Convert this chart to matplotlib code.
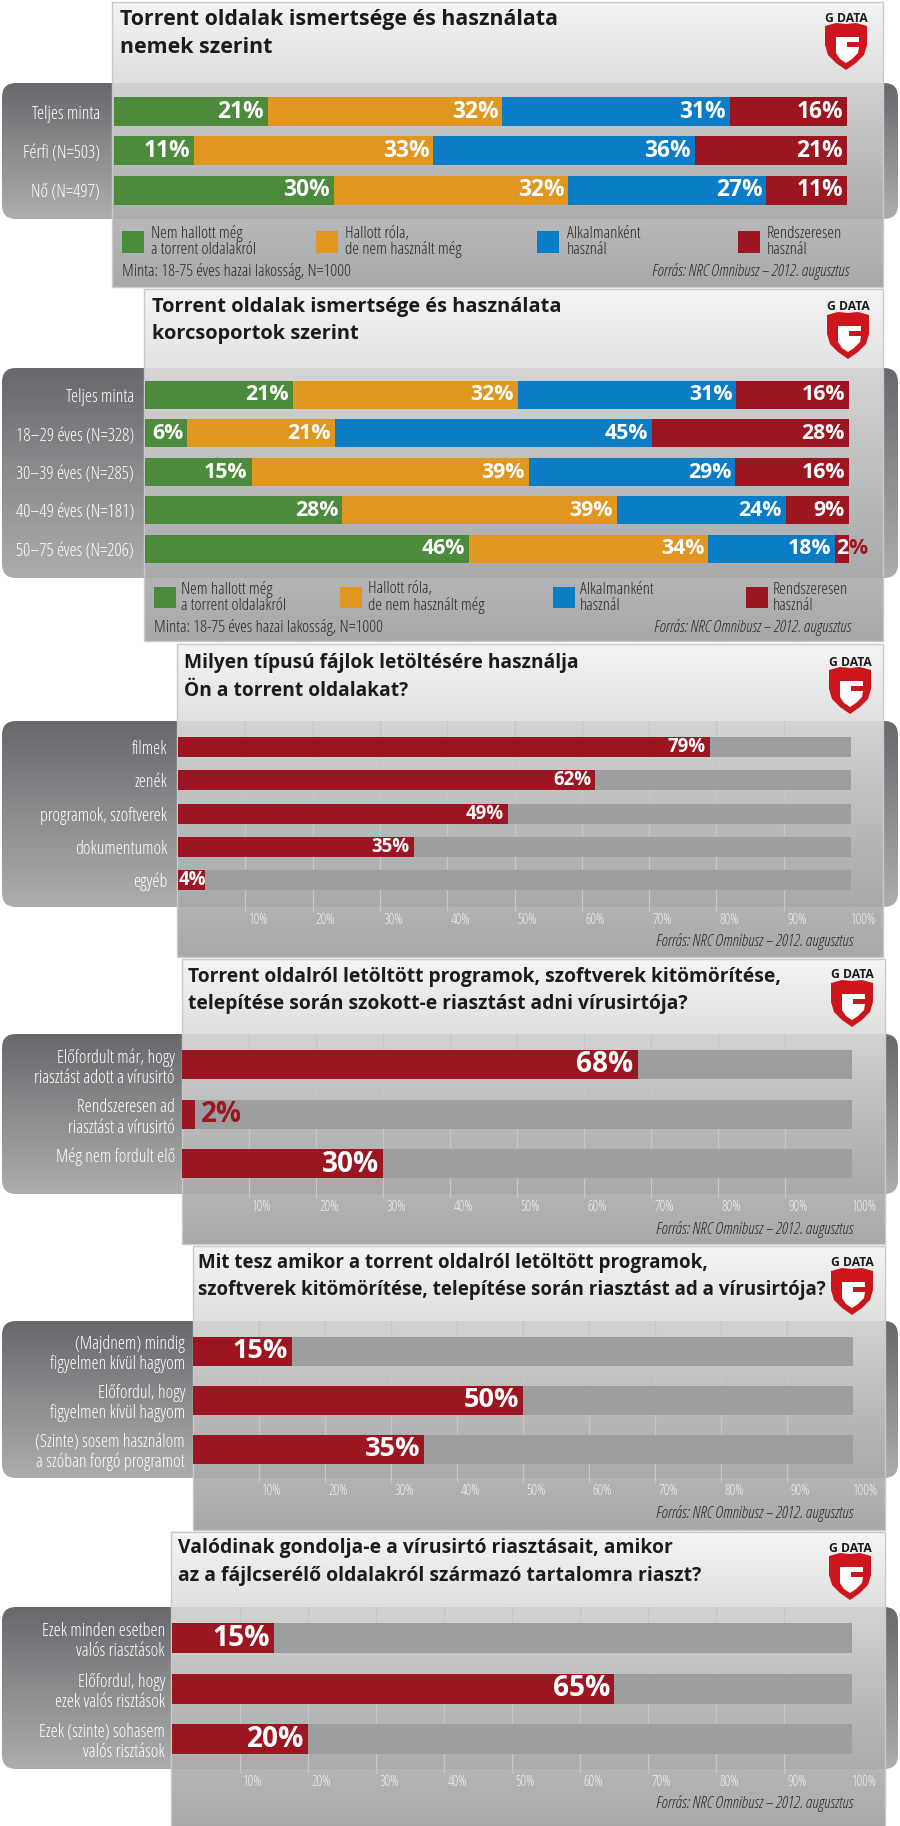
import numpy as np
import matplotlib
matplotlib.use('Agg')
import matplotlib.pyplot as plt
import matplotlib.transforms as mtransforms
from matplotlib import font_manager as fm
from matplotlib.patches import FancyBboxPatch, Rectangle, Polygon
from matplotlib.colors import LinearSegmentedColormap

# ------------------------------------------------------------------ data
series_names = ['Nem hallott még\na torrent oldalakról', 'Hallott róla,\nde nem használt még',
                'Alkalmanként\nhasznál', 'Rendszeresen\nhasznál']
series_colors = ['#4b8b3b', '#e0961f', '#0b7dc6', '#9b1620']

gender_categories = ['Teljes minta', 'Férfi (N=503)', 'Nő (N=497)']
gender_never = [21, 11, 30]
gender_heard = [32, 33, 32]
gender_occasional = [31, 36, 27]
gender_regular = [16, 21, 11]

age_categories = ['Teljes minta', '18–29 éves (N=328)', '30–39 éves (N=285)',
                  '40–49 éves (N=181)', '50–75 éves (N=206)']
age_never = [21, 6, 15, 28, 46]
age_heard = [32, 21, 39, 39, 34]
age_occasional = [31, 45, 29, 24, 18]
age_regular = [16, 28, 16, 9, 2]

filetype_categories = ['filmek', 'zenék', 'programok, szoftverek', 'dokumentumok', 'egyéb']
filetype_values = [79, 62, 49, 35, 4]

alert_categories = ['Előfordult már, hogy\nriasztást adott a vírusirtó',
                    'Rendszeresen ad\nriasztást a vírusirtó',
                    'Még nem fordult elő\n ']
alert_values = [68, 2, 30]

action_categories = ['(Majdnem) mindig\nfigyelmen kívül hagyom',
                     'Előfordul, hogy\nfigyelmen kívül hagyom',
                     '(Szinte) sosem használom\na szóban forgó programot']
action_values = [15, 50, 35]

real_categories = ['Ezek minden esetben\nvalós riasztások',
                   'Előfordul, hogy\nezek valós risztások',
                   'Ezek (szinte) sohasem\nvalós risztások']
real_values = [15, 65, 20]

pct_ticks = [10, 20, 30, 40, 50, 60, 70, 80, 90, 100]
pct_tick_labels = ['10%', '20%', '30%', '40%', '50%', '60%', '70%', '80%', '90%', '100%']

titles = [
    ['Torrent oldalak ismertsége és használata', 'nemek szerint'],
    ['Torrent oldalak ismertsége és használata', 'korcsoportok szerint'],
    ['Milyen típusú fájlok letöltésére használja', 'Ön a torrent oldalakat?'],
    ['Torrent oldalról letöltött programok, szoftverek kitömörítése,',
     'telepítése során szokott-e riasztást adni vírusirtója?'],
    ['Mit tesz amikor a torrent oldalról letöltött programok,',
     'szoftverek kitömörítése, telepítése során riasztást ad a vírusirtója?'],
    ['Valódinak gondolja-e a vírusirtó riasztásait, amikor',
     'az a fájlcserélő oldalakról származó tartalomra riaszt?'],
]
sample_note = 'Minta: 18-75 éves hazai lakosság, N=1000'
source_note = 'Forrás: NRC Omnibusz – 2012. augusztus'

# ------------------------------------------------------------------ fonts
def pick_font():
    prefs = ['Liberation Sans Narrow', 'Noto Sans', 'Open Sans', 'Roboto', 'DejaVu Sans', 'Lato']
    entries = fm.fontManager.ttflist
    for fam in prefs:
        for e in entries:
            if e.name == fam and e.stretch in ('condensed', 'semi-condensed', 'narrower'):
                return fam, e.stretch
        for e in entries:
            if e.name.startswith(fam) and ('Condensed' in e.name or 'Narrow' in e.name):
                return e.name, 'normal'
    return 'Liberation Sans', 'normal'


FAM, STRETCH = pick_font()
plt.rcParams['font.family'] = [FAM, 'Liberation Sans', 'DejaVu Sans']
plt.rcParams['font.stretch'] = STRETCH

RED = '#9b1620'
TRACK = '#9c9ea0'
LABEL_C = '#ffffff'
TEXT_DARK = '#2a2a2a'

W, H = 900, 1826
fig = plt.figure(figsize=(W / 100, H / 100), dpi=100)
fig.patch.set_facecolor('white')
bg = fig.add_axes([0, 0, 1, 1])
bg.axis('off')
bg.set_xlim(0, W)
bg.set_ylim(H, 0)
renderer = fig.canvas.get_renderer()


def fit_fs(strings, target_px, base=12.0, **kw):
    widest = 0
    for s in strings:
        t = fig.text(0, 0, s, fontsize=base, **kw)
        widest = max(widest, t.get_window_extent(renderer).width)
        t.remove()
    return base * target_px / widest


def text_w(s, fs, **kw):
    t = fig.text(0, 0, s, fontsize=fs, **kw)
    w = t.get_window_extent(renderer).width
    t.remove()
    return w


def px_axes(x0, y0, x1, y1):
    ax = fig.add_axes([x0 / W, 1 - y1 / H, (x1 - x0) / W, (y1 - y0) / H])
    ax.set_facecolor('none')
    for s in ax.spines.values():
        s.set_visible(False)
    return ax


def vgrad(x0, y0, x1, y1, colors, z, clip=None):
    cmap = LinearSegmentedColormap.from_list('g', colors)
    im = bg.imshow(np.linspace(0, 1, 256).reshape(-1, 1), cmap=cmap,
                   extent=[x0, x1, y1, y0], aspect='auto', zorder=z,
                   interpolation='bilinear', origin='upper')
    if clip is not None:
        im.set_clip_path(clip)
    return im


FS_LOGO = fit_fs(['G DATA'], 43, fontweight='bold')


def logo(cx, ty):
    bg.text(cx, ty, 'G DATA', ha='center', va='center', fontsize=FS_LOGO,
            fontweight='bold', color='#1a1a1a', zorder=30)
    y0 = ty + 5
    pts = [(cx - 21, y0 + 3), (cx - 10, y0), (cx, y0 + 1), (cx + 10, y0), (cx + 21, y0 + 3),
           (cx + 21, y0 + 22), (cx + 18, y0 + 32), (cx + 10, y0 + 40), (cx, y0 + 47),
           (cx - 10, y0 + 40), (cx - 18, y0 + 32), (cx - 21, y0 + 22)]
    bg.add_patch(Polygon(pts, closed=True, facecolor='#cc151d', edgecolor='none', zorder=30))
    inner = [(cx - 10, y0 + 14), (cx + 13, y0 + 14), (cx + 13, y0 + 19), (cx + 1, y0 + 19),
             (cx + 1, y0 + 24), (cx + 13, y0 + 24), (cx + 12, y0 + 30), (cx + 6, y0 + 36),
             (cx, y0 + 40), (cx - 6, y0 + 36), (cx - 10, y0 + 30)]
    bg.add_patch(Polygon(inner, closed=True, facecolor='white', edgecolor='none', zorder=31))


def panel(px0, py0, px1, py1, band_top, band_bot, title_lines, tx, ty, title_w, logo_pos):
    band = FancyBboxPatch((2, band_top), 896, band_bot - band_top,
                          boxstyle='round,pad=0,rounding_size=14',
                          facecolor='none', edgecolor='none', zorder=1)
    bg.add_patch(band)
    vgrad(2, band_top, 898, band_bot, ['#67686b', '#8a8c8e', '#abadaf'], 1, clip=band)
    vgrad(px0, py0, px1, py1, ['#f4f4f4', '#dadadb', '#bdbfc0', '#a6a8aa'], 2)
    bg.add_patch(Rectangle((px0, band_top), px1 - px0, band_bot - band_top,
                           facecolor='black', alpha=0.06, edgecolor='none', zorder=3))
    bg.add_patch(Rectangle((px0, py0), px1 - px0, py1 - py0, facecolor='none',
                           edgecolor='#c9c9c9', lw=1.0, zorder=4))
    fs = min(fit_fs(title_lines, title_w, fontweight='bold'), 19)
    for i, line in enumerate(title_lines):
        bg.text(tx, ty + i * 27.5, line, ha='left', va='center', fontsize=fs,
                fontweight='bold', color='#1b1b1b', zorder=10)
    logo(*logo_pos)


def rows_axes(x0, x1, top, bot, first_c, pitch):
    ax = px_axes(x0, top, x1, bot)
    ax.set_ylim((bot - first_c) / pitch, (top - first_c) / pitch)
    ax.set_xlim(0, 100)
    return ax


def set_cats(ax, cats, target_w, pad_px, lsp=1.1):
    fs = min(fit_fs(cats, target_w, linespacing=lsp), 13)
    ax.set_yticks(np.arange(len(cats)))
    ax.set_yticklabels(cats, fontsize=fs, color=LABEL_C, linespacing=lsp)
    ax.tick_params(axis='y', length=0, pad=pad_px * 0.72)


def stacked(x0, x1, top, bot, first_c, pitch, bar_px, cats, series, pad_px, cat_w, val_w):
    n = len(cats)
    ax = rows_axes(x0, x1, top, bot, first_c, pitch)
    y = np.arange(n)
    data = np.array(series, dtype=float)
    totals = data.sum(axis=0)
    left = np.zeros(n)
    fs_val = fit_fs(['21%'], val_w, fontweight='bold')
    off = mtransforms.offset_copy(ax.transData, fig=fig, x=-4, y=0, units='dots')
    for k, col in enumerate(series_colors):
        w = data[k] / totals * 100
        ax.barh(y, w, left=left, height=bar_px / pitch, color=col, zorder=3)
        for i in range(n):
            v = int(data[k][i])
            if v < 4:
                num_off = mtransforms.offset_copy(ax.transData, fig=fig, x=1, y=0, units='dots')
                ax.text(left[i], y[i], f'{v}', ha='left', va='center', fontsize=fs_val,
                        fontweight='bold', color='white', transform=num_off, zorder=6,
                        clip_on=False)
                dx = 1 + text_w(f'{v}', fs_val, fontweight='bold')
                pct_off = mtransforms.offset_copy(ax.transData, fig=fig, x=dx, y=0, units='dots')
                ax.text(left[i], y[i], '%', ha='left', va='center', fontsize=fs_val,
                        fontweight='bold', color=col, transform=pct_off, zorder=6,
                        clip_on=False)
            else:
                ax.text(left[i] + w[i], y[i], f'{v}%', ha='right', va='center',
                        fontsize=fs_val, fontweight='bold', color='white', transform=off,
                        zorder=5)
        left += w
    ax.set_xticks([])
    set_cats(ax, cats, cat_w, pad_px)
    return ax


FS_TICK = fit_fs(['100%'], 25)
FS_NOTE = fit_fs([sample_note], 227)
FS_SRC = fit_fs([source_note], 198, style='italic')
FS_LEG = fit_fs(['a torrent oldalakról'], 104)


def simple(x0, x1, top, bot, first_c, pitch, bar_px, cats, vals, pad_px, cat_w, val_w, sample):
    n = len(cats)
    ax = rows_axes(x0, x1, top, bot + 5, first_c, pitch)
    y = np.arange(n)
    h = bar_px / pitch
    ax.barh(y, [100] * n, height=h, color=TRACK, zorder=2)
    ax.barh(y, vals, height=h, color=RED, zorder=3)
    fs_val = fit_fs([sample], val_w, fontweight='bold')
    px_per_unit = (x1 - x0) / 100.0
    off = mtransforms.offset_copy(ax.transData, fig=fig, x=-4, y=0, units='dots')
    off_out = mtransforms.offset_copy(ax.transData, fig=fig, x=6, y=0, units='dots')
    off_in = mtransforms.offset_copy(ax.transData, fig=fig, x=1, y=0, units='dots')
    for i, v in enumerate(vals):
        lw = text_w(f'{v}%', fs_val, fontweight='bold')
        if v < 3:
            ax.text(v, y[i], f'{v}%', ha='left', va='center', fontsize=fs_val,
                    fontweight='bold', color=RED, transform=off_out, zorder=5)
        elif lw + 5 > v * px_per_unit:
            ax.text(0, y[i], f'{v}%', ha='left', va='center', fontsize=fs_val,
                    fontweight='bold', color='white', transform=off_in, zorder=5)
        else:
            ax.text(v, y[i], f'{v}%', ha='right', va='center', fontsize=fs_val,
                    fontweight='bold', color='white', transform=off, zorder=5)
    set_cats(ax, cats, cat_w, pad_px, lsp=1.15)
    ax.set_xticks(pct_ticks)
    ax.set_xticklabels(pct_tick_labels, fontsize=FS_TICK, color='#eeeeee')
    ax.tick_params(axis='x', length=0, pad=0.5)
    shift = mtransforms.ScaledTranslation(13 / 100, 0, fig.dpi_scale_trans)
    for lbl in ax.get_xticklabels():
        lbl.set_transform(lbl.get_transform() + shift)
    ax.grid(axis='x', color='#c4c6c8', lw=0.9, zorder=1)
    ax.set_axisbelow(True)
    bg.text(853, bot + 35, source_note, ha='right', va='center', fontsize=FS_SRC,
            style='italic', color=TEXT_DARK, zorder=10)
    return ax


def legend_row(xs_sq, xs_txt, y_top, y_bot):
    for name, col, xs, xt in zip(series_names, series_colors, xs_sq, xs_txt):
        bg.add_patch(Rectangle((xs, y_top), 22, y_bot - y_top, facecolor=col,
                               edgecolor='none', zorder=10))
        bg.text(xt, (y_top + y_bot) / 2, name, ha='left', va='center', fontsize=FS_LEG,
                color=TEXT_DARK, linespacing=1.0, zorder=10)


# ---------------------------------------------------------------- section 1
panel(112, 2, 883, 287, 83, 219, titles[0], 120, 20, 439, (846, 18))
stacked(114, 847, 83, 219, 111.5, 39.3, 29, gender_categories,
        [gender_never, gender_heard, gender_occasional, gender_regular], 14, 83, 46)
legend_row([122, 316, 537, 738], [151, 345, 567, 767], 231, 253)
bg.text(122, 272, sample_note, ha='left', va='center', fontsize=FS_NOTE, color=TEXT_DARK, zorder=10)
bg.text(849, 272, source_note, ha='right', va='center', fontsize=FS_SRC, style='italic',
        color=TEXT_DARK, zorder=10)

# ---------------------------------------------------------------- section 2
panel(144, 289, 883, 641, 368, 578, titles[1], 152, 307, 409, (848, 307))
stacked(145, 849, 368, 578, 395, 38.5, 28, age_categories,
        [age_never, age_heard, age_occasional, age_regular], 11, 121, 43)
legend_row([154, 340, 553, 746], [181, 368, 580, 773], 587, 608)
bg.text(154, 628, sample_note, ha='left', va='center', fontsize=FS_NOTE, color=TEXT_DARK, zorder=10)
bg.text(851, 628, source_note, ha='right', va='center', fontsize=FS_SRC, style='italic',
        color=TEXT_DARK, zorder=10)

# ---------------------------------------------------------------- section 3
panel(177, 644, 883, 957, 721, 907, titles[2], 184, 663, 394, (850, 662))
simple(178, 851, 721, 907, 747, 33.3, 20, filetype_categories, filetype_values, 11, 151, 38, '79%')

# ---------------------------------------------------------------- section 4
panel(182, 959, 885, 1244, 1034, 1194, titles[3], 188, 977, 591, (852, 975))
simple(182, 852, 1034, 1194, 1065, 49.5, 29, alert_categories, alert_values, 7, 165, 57, '68%')

# ---------------------------------------------------------------- section 5
panel(193, 1246, 885, 1530, 1321, 1478, titles[4], 198, 1263, 627, (852, 1263))
simple(193, 853, 1321, 1478, 1351, 49, 29, action_categories, action_values, 8, 171, 55, '50%')

# ---------------------------------------------------------------- section 6
panel(171, 1532, 885, 1830, 1607, 1769, titles[5], 178, 1548, 521, (850, 1548))
simple(172, 852, 1607, 1769, 1638, 50.5, 30, real_categories, real_values, 7, 147, 57, '65%')

bg.set_xlim(0, W)
bg.set_ylim(H, 0)
fig.savefig('out.png', dpi=100, facecolor='white')
